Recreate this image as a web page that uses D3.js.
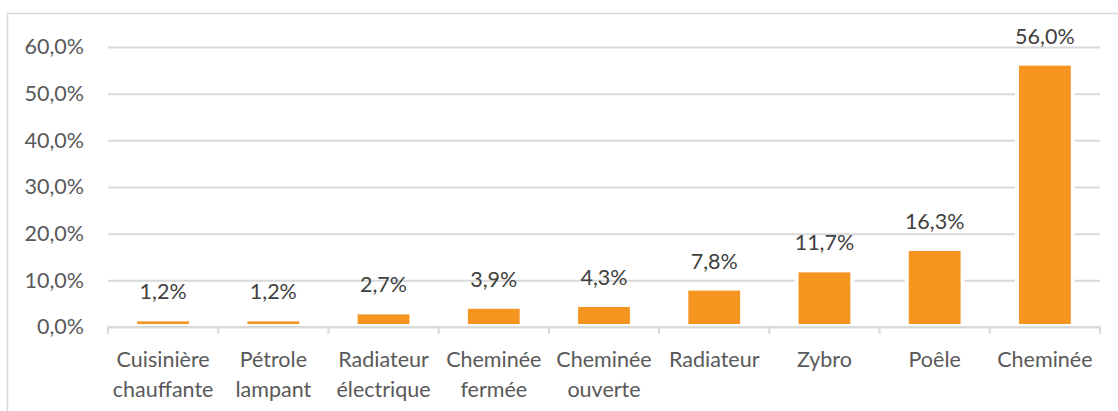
<!DOCTYPE html>
<html>
<head>
<meta charset="utf-8">
<script src="https://cdnjs.cloudflare.com/ajax/libs/d3/7.8.5/d3.min.js"></script>
<style>
    body { margin: 0; background: #fff; }
    #chart { width: 1118px; height: 411px; }
    text { font-family: Lato, "Open Sans", sans-serif; }
</style>
</head>
<body>
<div id="chart"></div>
<script>
//DATA
let categories = [
    ['Cuisinière', 'chauffante'],
    ['Pétrole', 'lampant'],
    ['Radiateur', 'électrique'],
    ['Cheminée', 'fermée'],
    ['Cheminée', 'ouverte'],
    ['Radiateur'],
    ['Zybro'],
    ['Poêle'],
    ['Cheminée']
];
let values = [1.2, 1.2, 2.7, 3.9, 4.3, 7.8, 11.7, 16.3, 56.0];
let yTicks = [0, 10, 20, 30, 40, 50, 60];

let orange = '#F5941F';
let gridColor = '#D9D9D9';
let fontSize = '21.5px';

//INIT
initChart();

function initChart() {
    let width = 1118, height = 411;
    let margin = {top: 47, right: 18, bottom: 84, left: 108};
    let innerW = width - margin.left - margin.right;
    let innerH = height - margin.top - margin.bottom;
    let fmt = function(v) { return d3.format('.1f')(v).replace('.', ',') + '%'; };

    let svg = d3.select('#chart')
        .append('svg')
            .attr('width', width)
            .attr('height', height);

    //Outer frame
    svg.append('path')
        .attr('d', 'M7.5,' + (height + 2) + 'V13.5H' + (width + 2))
        .attr('fill', 'none')
        .attr('stroke', gridColor)
        .attr('stroke-width', 1.5);

    let chart = svg.append('g')
        .attr('transform', 'translate(' + margin.left + ',' + margin.top + ')');

    let idx = categories.map(function(d, i) { return i; });

    //Scales
    let x = d3.scaleBand()
        .domain(idx)
        .range([0, innerW])
        .paddingInner(0.53)
        .paddingOuter(0.265);
    let xEdges = d3.scaleBand().domain(idx).range([0, innerW]);

    let y = d3.scaleLinear()
        .domain([0, 60])
        .range([innerH, 0]);

    //Y axis with gridlines
    let yAxis = function(g) {
        g.call(d3.axisLeft(y).tickValues(yTicks).tickFormat(fmt).tickSize(-innerW).tickPadding(24));
        g.select('.domain').remove();
        g.selectAll('.tick line')
            .attr('stroke', gridColor)
            .attr('stroke-width', 2);
        g.selectAll('.tick text')
            .attr('fill', '#595959')
            .attr('font-size', fontSize);
    };
    chart.append('g').attr('class', 'y_axis').call(yAxis);

    //Bars: white halo then fill
    let bars = chart.selectAll('.bar')
        .data(values)
        .enter()
        .append('g')
        .attr('class', 'bar');

    bars.append('rect')
        .attr('x', function(d, i) { return x(i) - 4; })
        .attr('width', x.bandwidth() + 8)
        .attr('y', function(d) { return y(d) - 4; })
        .attr('height', function(d) { return y(0) - y(d) + 3; })
        .attr('fill', '#fff');

    bars.append('rect')
        .attr('x', function(d, i) { return x(i); })
        .attr('width', x.bandwidth())
        .attr('y', function(d) { return y(d); })
        .attr('height', function(d) { return Math.max(1, y(0) - y(d) - 3); })
        .attr('fill', orange);

    //Baseline + category ticks
    chart.append('line')
        .attr('x1', 0).attr('x2', innerW)
        .attr('y1', y(0)).attr('y2', y(0))
        .attr('stroke', gridColor)
        .attr('stroke-width', 2);

    chart.selectAll('.xtick')
        .data(idx.concat([idx.length]))
        .enter()
        .append('line')
        .attr('class', 'xtick')
        .attr('x1', function(d) { return d < idx.length ? xEdges(d) : innerW; })
        .attr('x2', function(d) { return d < idx.length ? xEdges(d) : innerW; })
        .attr('y1', y(0))
        .attr('y2', y(0) + 7)
        .attr('stroke', gridColor)
        .attr('stroke-width', 2);

    //Data labels
    chart.selectAll('.label')
        .data(values)
        .enter()
        .append('text')
        .attr('class', 'label')
        .attr('x', function(d, i) { return x(i) + x.bandwidth() / 2; })
        .attr('y', function(d) { return y(d) - 22; })
        .attr('text-anchor', 'middle')
        .attr('fill', '#404040')
        .attr('font-size', fontSize)
        .text(fmt);

    //Category labels
    let cats = chart.selectAll('.cat')
        .data(categories)
        .enter()
        .append('text')
        .attr('class', 'cat')
        .attr('x', function(d, i) { return x(i) + x.bandwidth() / 2; })
        .attr('y', y(0) + 40)
        .attr('text-anchor', 'middle')
        .attr('fill', '#595959')
        .attr('font-size', fontSize);

    cats.selectAll('tspan')
        .data(function(d) { return d; })
        .enter()
        .append('tspan')
        .attr('x', function() { return d3.select(this.parentNode).attr('x'); })
        .attr('dy', function(d, i) { return i === 0 ? 0 : 30; })
        .text(function(d) { return d; });
}
</script>
</body>
</html>
